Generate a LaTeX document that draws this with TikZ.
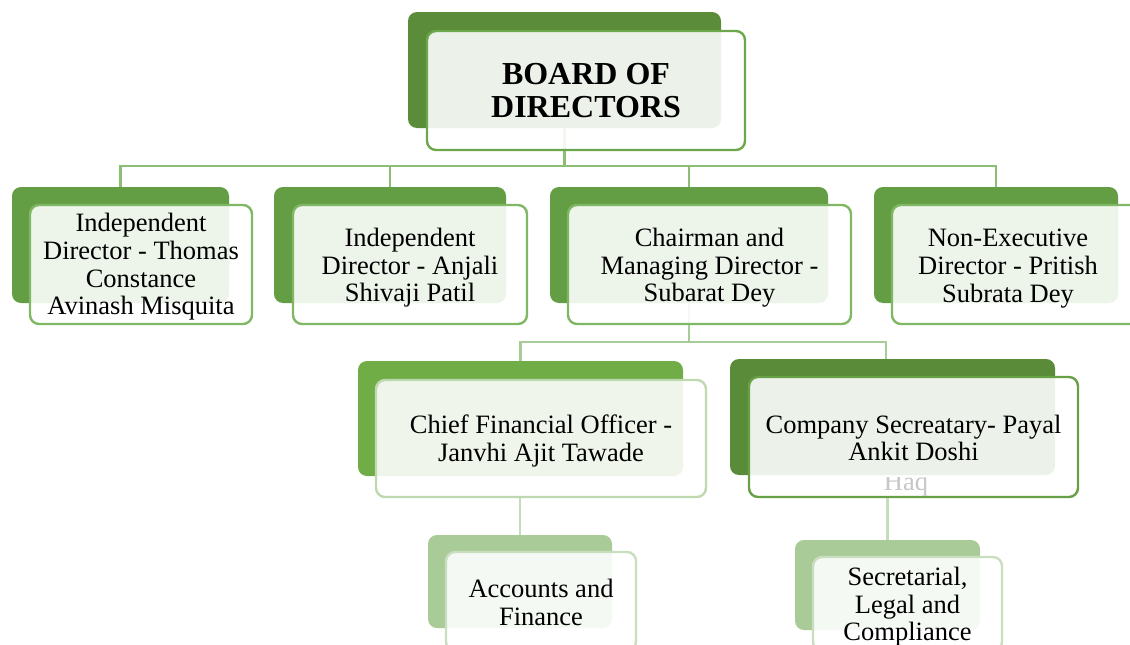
\documentclass[tikz,border=0pt]{standalone}
\usepackage{fontspec}
\setmainfont{Liberation Serif}
\definecolor{cTopD}{RGB}{90,140,58}
\definecolor{cTopB}{RGB}{108,168,75}
\definecolor{cLtwoD}{RGB}{99,158,69}
\definecolor{cLtwoB}{RGB}{128,183,100}
\definecolor{cCfoD}{RGB}{112,173,71}
\definecolor{cCfoB}{RGB}{190,216,176}
\definecolor{cCsD}{RGB}{89,139,56}
\definecolor{cCsB}{RGB}{104,160,70}
\definecolor{cLfourD}{RGB}{169,203,152}
\definecolor{cLfourB}{RGB}{200,222,190}
\definecolor{connA}{RGB}{140,190,118}
\definecolor{connB}{RGB}{168,204,152}
\definecolor{connC}{RGB}{198,221,188}
\newcommand\lvtext{\fontsize{26.5}{27.6}\selectfont}
\newcommand\toptext{\fontsize{32}{33}\selectfont\bfseries}
\begin{document}
\begin{tikzpicture}[x=1pt,y=-1pt,
  darkbox/.style={rounded corners=9pt, inner sep=0pt, draw=none},
  frontbox/.style={rounded corners=9pt, inner sep=0pt, fill=white, fill opacity=0.89,
    line width=2.4pt},
  plaintext/.style={inner sep=0pt, align=center, font=\lvtext},
  connector/.style={line width=2.2pt}]
\useasboundingbox (0,0) rectangle (1130,645);
\clip (0,0) rectangle (1130,645);
% coordinates for buses
\coordinate (busA) at (564.5,166);
\coordinate (busB) at (689,342);
\coordinate (csTop) at (886,359);
% ---------- dark back boxes ----------
\node[darkbox, fill=cTopD, minimum width=313pt, minimum height=116pt] (dtop) at (564.5,70) {};
\node[darkbox, fill=cLtwoD, minimum width=217pt, minimum height=116pt] (d1) at (120.5,245) {};
\node[darkbox, fill=cLtwoD, minimum width=232pt, minimum height=116pt] (d2) at (390,245) {};
\node[darkbox, fill=cLtwoD, minimum width=278pt, minimum height=116pt] (d3) at (689,245) {};
\node[darkbox, fill=cLtwoD, minimum width=244pt, minimum height=116pt] (d4) at (996,245) {};
\node[darkbox, fill=cCfoD, minimum width=325pt, minimum height=115pt] (dcfo) at (520.5,418.5) {};
\node[darkbox, fill=cCsD, minimum width=325pt, minimum height=116pt] (dcs) at (892.5,417) {};
\node[darkbox, fill=cLfourD, minimum width=184pt, minimum height=93pt] (dacc) at (520,581.5) {};
\node[darkbox, fill=cLfourD, minimum width=185pt, minimum height=90pt] (dsec) at (887.5,585) {};
% ---------- connectors ----------
\draw[connector, connA] (dtop.south) -- (busA);
\draw[connector, connA] (d1.north) |- (busA) -| (d4.north);
\draw[connector, connA] (d2.north) -- (d2.north |- busA);
\draw[connector, connA] (d3.north) -- (d3.north |- busA);
\draw[connector, connB] (d3.south) -- (busB);
\draw[connector, connB] (dcfo.north) |- (busB) -| (csTop);
% ---------- front boxes ----------
\node[frontbox, draw=cTopB, minimum width=318pt, minimum height=119pt] (ftop) at (586,90.5) {};
\node[plaintext, font=\toptext] (ttop) at (ftop.center) {BOARD OF\\DIRECTORS};
\node[frontbox, draw=cLtwoB, minimum width=222pt, minimum height=119pt] (f1) at (141,264.5) {};
\node[plaintext] (t1) at ([yshift=-2.5pt]f1.center) {Independent\\Director - Thomas\\Constance\\Avinash Misquita};
\node[frontbox, draw=cLtwoB, minimum width=234pt, minimum height=119pt] (f2) at (410,264.5) {};
\node[plaintext] (t2) at ([yshift=-3.5pt]f2.center) {Independent\\Director - Anjali\\Shivaji Patil};
\node[frontbox, draw=cLtwoB, minimum width=283pt, minimum height=119pt] (f3) at (709.5,264.5) {};
\node[plaintext] (t3) at ([yshift=-3.5pt]f3.center) {Chairman and\\Managing Director -\\Subarat Dey};
\node[frontbox, draw=cLtwoB, minimum width=248pt, minimum height=119pt] (f4) at (1016,264.5) {};
\node[plaintext] (t4) at (1008,268.5) {Non-Executive\\Director - Pritish\\Subrata Dey};
\node[frontbox, draw=cCfoB, minimum width=330pt, minimum height=117pt] (fcfo) at (541,438.5) {};
\node[plaintext] (tcfo) at ([yshift=-2.5pt]fcfo.center) {Chief Financial Officer -\\Janvhi Ajit Tawade};
\node[frontbox, draw=cCsB, minimum width=329pt, minimum height=120pt] (fcs) at (913.5,437) {};
\node[plaintext] (tcs) at ([yshift=-1pt]fcs.center) {Company Secreatary- Payal\\Ankit Doshi};
\begin{scope}
\clip (740,477) rectangle (1070,500);
\node[plaintext, anchor=base, text=black!22] (haq) at (906,490) {Haq};
\end{scope}
% ---------- lower connectors ----------
\draw[connector, connC] (dacc.north |- fcfo.south) -- (dacc.north);
\draw[connector, connC] (dsec.north |- fcs.south) -- (dsec.north);
\node[frontbox, draw=cLfourB, minimum width=190pt, minimum height=99pt] (facc) at (541,601.5) {};
\node[plaintext] (tacc) at ([yshift=-1pt]facc.center) {Accounts and\\Finance};
\node[frontbox, draw=cLfourB, minimum width=189pt, minimum height=94pt] (fsec) at (907.5,604) {};
\node[plaintext] (tsec) at ([yshift=-3pt]fsec.center) {Secretarial,\\Legal and\\Compliance};
\end{tikzpicture}
\end{document}
